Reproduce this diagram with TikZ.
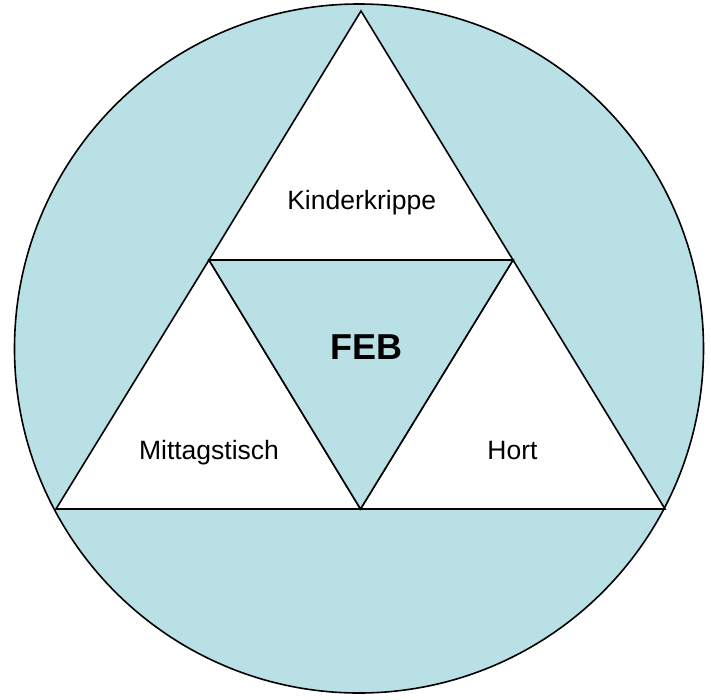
\documentclass[tikz,border=0pt]{standalone}
\usepackage{fontspec}
\setmainfont{Liberation Sans}
\definecolor{feblue}{RGB}{185,224,228}
\begin{document}
\begin{tikzpicture}[x=1pt,y=-1pt,
  edge/.style={draw=black,line width=1.6pt,line join=miter},
  lbl/.style={anchor=base,inner sep=0pt,font=\fontsize{26.5}{30}\selectfont},
  biglbl/.style={anchor=base,inner sep=0pt,font=\fontsize{36}{40}\selectfont\bfseries}]
\useasboundingbox (0,0) rectangle (711,699);
% outer circle
\draw[edge,fill=feblue] (359,348.5) circle[radius=344.5];
% corner and midpoint coordinates
\coordinate (A) at (361,11);
\coordinate (L) at (56,509);
\coordinate (R) at (665,509);
\coordinate (ML) at (209,260);
\coordinate (MR) at (513,260);
\coordinate (MB) at (360.5,509);
% white sub-triangles
\draw[edge,fill=white] (A) -- (MR) -- (ML) -- cycle;
\draw[edge,fill=white] (ML) -- (MB) -- (L) -- cycle;
\draw[edge,fill=white] (MR) -- (R) -- (MB) -- cycle;
% central triangle
\draw[edge,fill=feblue] (ML) -- (MR) -- (MB) -- cycle;
% labels
\node[lbl] (kk) at (361.7,209.3) {Kinderkrippe};
\node[lbl] (mt) at (209,459.3) {Mittagstisch};
\node[lbl] (ho) at (512.5,459.3) {Hort};
\node[biglbl] (feb) at (366.7,359.3) {FEB};
\end{tikzpicture}
\end{document}
